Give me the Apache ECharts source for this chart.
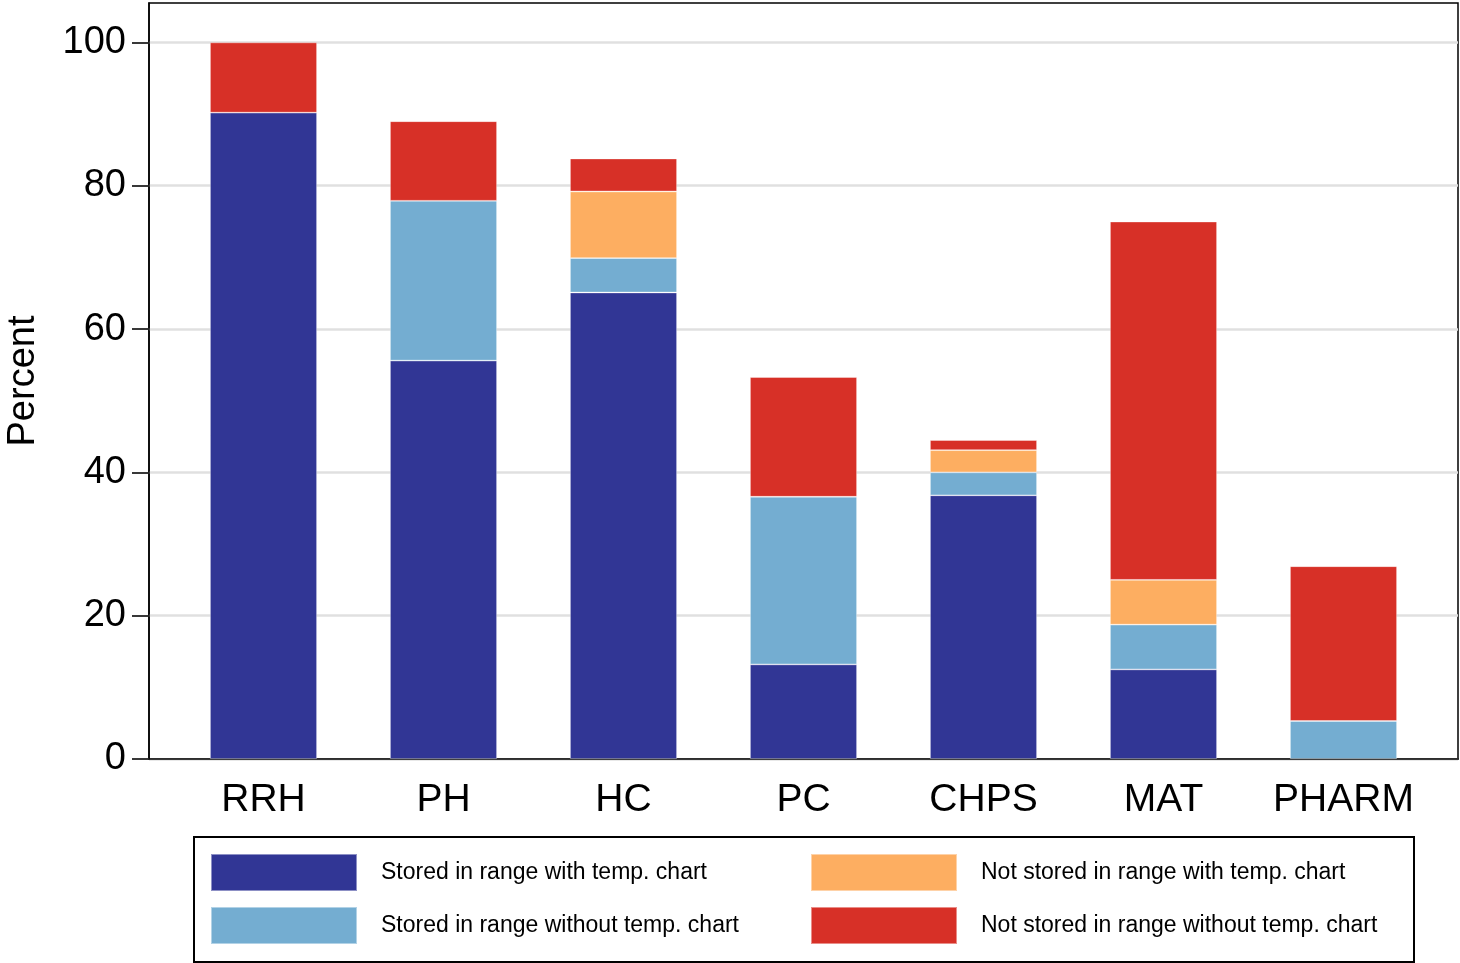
<!DOCTYPE html>
<html>
<head>
<meta charset="utf-8">
<script src="https://cdn.jsdelivr.net/npm/echarts@6/dist/echarts.min.js"></script>
<style>
html,body{margin:0;padding:0;background:#fff;}
#chart{width:1460px;height:963px;}
</style>
</head>
<body>
<div id="chart"></div>
<script>
const categories = ['RRH', 'PH', 'HC', 'PC', 'CHPS', 'MAT', 'PHARM'];
const storedWithChart = [90.2, 55.6, 65.1, 13.2, 36.8, 12.5, 0];
const storedWithoutChart = [0, 22.3, 4.8, 23.4, 3.2, 6.25, 5.3];
const notStoredWithChart = [0, 0, 9.3, 0, 3.1, 6.25, 0];
const notStoredWithoutChart = [9.8, 11.1, 4.6, 16.7, 1.4, 50, 21.6];
const yTicks = [0, 20, 40, 60, 80, 100];
const seriesNames = [
  'Stored in range with temp. chart',
  'Stored in range without temp. chart',
  'Not stored in range with temp. chart',
  'Not stored in range without temp. chart'
];
const seriesColors = ['#313695', '#74add1', '#fdae61', '#d73027'];
const seriesValues = [storedWithChart, storedWithoutChart, notStoredWithChart, notStoredWithoutChart];

const FONT = 'Liberation Sans, Arial, Helvetica, sans-serif';
const YMAX = 105.5;

const chart = echarts.init(document.getElementById('chart'), null, {renderer: 'canvas'});

const series = seriesValues.map((vals, i) => ({
  name: seriesNames[i],
  type: 'bar',
  stack: 'total',
  xAxisIndex: 0,
  yAxisIndex: 0,
  barWidth: 107,
  data: vals.map(v => v === 0 ? null : v),
  itemStyle: {color: seriesColors[i], borderColor: 'rgba(255,255,255,0.45)', borderWidth: 0.8},
  emphasis: {disabled: true},
  animation: false
}));

const option = {
  animation: false,
  textStyle: {fontFamily: FONT},
  grid: [
    {left: 173.5, top: 3, width: 1260, height: 756, show: false, containLabel: false, outerBoundsMode: 'none'},
    {left: 149, top: 3, width: 1309, height: 756, show: true, borderColor: '#000', borderWidth: 1.5, backgroundColor: 'transparent', z: 0, containLabel: false, outerBoundsMode: 'none'}
  ],
  xAxis: [
    {
      type: 'category', gridIndex: 0, data: categories,
      axisLine: {show: false}, axisTick: {show: false},
      axisLabel: {fontSize: 39, color: '#000', margin: 22, fontFamily: FONT, interval: 0},
      splitLine: {show: false}
    },
    {
      type: 'value', gridIndex: 1, min: 0, max: 1,
      axisLine: {show: true, lineStyle: {color: '#000', width: 1.5}},
      axisTick: {show: false}, axisLabel: {show: false}, splitLine: {show: false}
    }
  ],
  yAxis: [
    {
      type: 'value', gridIndex: 0, min: 0, max: YMAX,
      axisLine: {show: false}, axisTick: {show: false}, axisLabel: {show: false}, splitLine: {show: false}
    },
    {
      type: 'value', gridIndex: 1, min: 0, max: YMAX, interval: 20,
      name: 'Percent', nameLocation: 'middle', nameGap: 106, nameRotate: 90,
      nameTextStyle: {fontSize: 38, color: '#000', fontFamily: FONT},
      axisLine: {show: true, lineStyle: {color: '#000', width: 1.5}},
      axisTick: {show: true, length: 17, lineStyle: {color: '#222', width: 1.8}, customValues: yTicks},
      axisLabel: {fontSize: 38, color: '#000', margin: 23, fontFamily: FONT, customValues: yTicks},
      splitLine: {show: true, lineStyle: {color: '#e0e0e0', width: 2.5}}
    }
  ],
  legend: [
    {
      data: seriesNames.slice(0, 2), orient: 'vertical', left: 210, top: 853, padding: 0,
      itemWidth: 146, itemHeight: 37, itemGap: 14, icon: 'rect',
      textStyle: {fontSize: 23, color: '#000', fontFamily: FONT, padding: [5, 0, 0, 19]},
      selectedMode: false
    },
    {
      data: seriesNames.slice(2, 4), orient: 'vertical', left: 810, top: 853, padding: 0,
      itemWidth: 146, itemHeight: 37, itemGap: 14, icon: 'rect',
      textStyle: {fontSize: 23, color: '#000', fontFamily: FONT, padding: [5, 0, 0, 19]},
      selectedMode: false
    }
  ],
  graphic: [
    {
      type: 'rect', left: 193, top: 836, silent: true,
      shape: {width: 1220, height: 125},
      style: {fill: 'transparent', stroke: '#000', lineWidth: 2}
    }
  ],
  series: series
};
chart.setOption(option);
</script>
</body>
</html>
